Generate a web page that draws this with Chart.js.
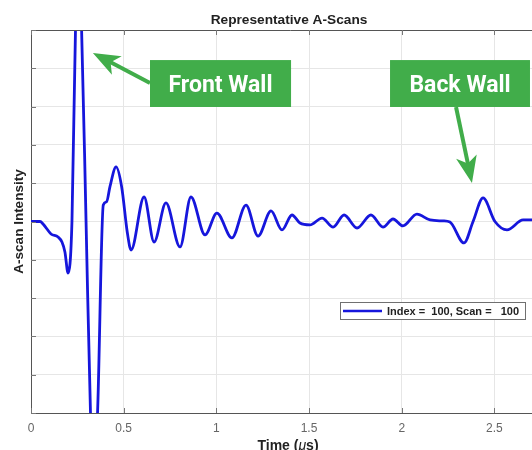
<!DOCTYPE html>
<html>
<head>
<meta charset="utf-8">
<script src="https://cdn.jsdelivr.net/npm/chart.js@4.4.1/dist/chart.umd.min.js"></script>
<style>
  html, body { margin: 0; padding: 0; background: #fff; overflow: hidden; width: 532px; height: 450px; }
  #wrap { position: absolute; left: 0; top: 0; width: 552px; height: 450px; }
</style>
</head>
<body>
<div id="wrap"><canvas id="c" width="552" height="450"></canvas></div>
<script>
// A-scan trace: time in microseconds, intensity normalised to the -1..1 axis
const timeUs = [
  0.000, 0.049, 0.065, 0.108, 0.146, 0.167, 0.183, 0.200, 0.221, 0.240,
  0.256, 0.273, 0.297, 0.321, 0.340, 0.359, 0.390, 0.408, 0.426, 0.459,
  0.489, 0.520, 0.540, 0.610, 0.664, 0.728, 0.804, 0.863, 0.939, 1.003,
  1.084, 1.160, 1.225, 1.295, 1.354, 1.408, 1.451, 1.505, 1.570, 1.630,
  1.689, 1.759, 1.834, 1.899, 1.953, 2.007, 2.082, 2.153, 2.223, 2.260,
  2.336, 2.385, 2.439, 2.503, 2.568, 2.655, 2.719, 2.800
];
const intensity = [
  0.000, 0.000, -0.013, -0.065, -0.081, -0.107, -0.159, -0.269, 0.000, 1.000,
  1.300, 1.000, 0.000, -1.000, -1.300, -1.000, 0.086, 0.103, 0.182, 0.285,
  0.182, -0.060, -0.149, 0.128, -0.107, 0.097, -0.133, 0.128, -0.070, 0.044,
  -0.086, 0.086, -0.076, 0.055, -0.044, 0.034, -0.008, -0.018, 0.018, -0.029,
  0.034, -0.034, 0.034, -0.029, 0.013, -0.023, 0.039, 0.008, 0.003, -0.003,
  -0.112, 0.000, 0.123, 0.000, -0.044, 0.008, 0.008, 0.003
];
const xTickValues = [0, 0.5, 1, 1.5, 2, 2.5];
const xTickLabels = ['0', '0.5', '1', '1.5', '2', '2.5'];
const seriesLabel = 'Index =  100, Scan =   100';
const chartTitle = 'Representative A-Scans';
const yTitle = 'A-scan Intensity';

// Callout boxes and arrows, placed in data units
const callouts = [
  { text: 'Front Wall', box: [0.642, 1.403, 0.843, 0.598], tail: [0.642, 0.723], tip: [0.334, 0.880] },
  { text: 'Back Wall',  box: [1.937, 2.692, 0.843, 0.598], tail: [2.293, 0.598], tip: [2.379, 0.201] }
];

const LINE_BLUE = '#1616dc';
const GREEN = '#41ad4a';
const AXIS = '#555555';
const GRID = '#e6e6e6';
const SANS = '"Liberation Sans", Arial, sans-serif';

function drawArrow(ctx, x0, y0, x1, y1) {
  const dx = x1 - x0, dy = y1 - y0;
  const len = Math.hypot(dx, dy);
  const ux = dx / len, uy = dy / len;
  const px = -uy, py = ux;
  const headLen = 27, notch = 20, half = 10.5;
  ctx.save();
  ctx.strokeStyle = GREEN;
  ctx.fillStyle = GREEN;
  ctx.lineWidth = 4;
  ctx.beginPath();
  ctx.moveTo(x0, y0);
  ctx.lineTo(x1 - ux * (notch - 1), y1 - uy * (notch - 1));
  ctx.stroke();
  const bx = x1 - ux * headLen, by = y1 - uy * headLen;
  ctx.beginPath();
  ctx.moveTo(x1, y1);
  ctx.lineTo(bx + px * half, by + py * half);
  ctx.lineTo(x1 - ux * notch, y1 - uy * notch);
  ctx.lineTo(bx - px * half, by - py * half);
  ctx.closePath();
  ctx.fill();
  ctx.restore();
}

const decorations = {
  id: 'decorations',
  afterDraw(chart) {
    const { ctx, chartArea: a, scales } = chart;
    const xs = scales.x, ys = scales.y;
    ctx.save();

    // top border of the axes box
    ctx.strokeStyle = AXIS;
    ctx.lineWidth = 1;
    ctx.beginPath();
    ctx.moveTo(a.left, a.top + 0.5);
    ctx.lineTo(a.right, a.top + 0.5);
    ctx.stroke();

    // inward tick marks
    ctx.strokeStyle = '#777';
    ctx.beginPath();
    xTickValues.forEach(v => {
      const x = Math.round(xs.getPixelForValue(v)) + 0.5;
      ctx.moveTo(x, a.bottom); ctx.lineTo(x, a.bottom - 5);
      ctx.moveTo(x, a.top); ctx.lineTo(x, a.top + 5);
    });
    ys.ticks.forEach(t => {
      const y = Math.round(ys.getPixelForValue(t.value)) + 0.5;
      ctx.moveTo(a.left, y); ctx.lineTo(a.left + 5, y);
    });
    ctx.stroke();

    // chart title
    ctx.fillStyle = '#222';
    ctx.font = 'bold 13.7px ' + SANS;
    ctx.textAlign = 'center';
    ctx.textBaseline = 'alphabetic';
    ctx.fillText(chartTitle, 289, 24);

    // y axis title
    ctx.save();
    ctx.translate(23, (a.top + a.bottom) / 2);
    ctx.rotate(-Math.PI / 2);
    ctx.font = 'bold 13.5px ' + SANS;
    ctx.fillText(yTitle, 0, 0);
    ctx.restore();

    // x axis title with italic mu
    const parts = [
      { t: 'Time (', f: 'bold 14px ' + SANS },
      { t: '\u03bc', f: 'italic 14px ' + SANS },
      { t: 's)', f: 'bold 14px ' + SANS }
    ];
    let total = 0;
    parts.forEach(p => { ctx.font = p.f; p.w = ctx.measureText(p.t).width; total += p.w; });
    let tx = 288 - total / 2;
    ctx.textAlign = 'left';
    parts.forEach(p => { ctx.font = p.f; ctx.fillText(p.t, tx, 450); tx += p.w; });

    // legend
    const lg = { x: 340, y: 302, w: 185, h: 17 };
    ctx.fillStyle = '#fff';
    ctx.fillRect(lg.x, lg.y, lg.w, lg.h);
    ctx.strokeStyle = '#707070';
    ctx.lineWidth = 1;
    ctx.strokeRect(lg.x + 0.5, lg.y + 0.5, lg.w, lg.h);
    ctx.strokeStyle = LINE_BLUE;
    ctx.lineWidth = 2.5;
    ctx.beginPath();
    ctx.moveTo(lg.x + 3, lg.y + 9);
    ctx.lineTo(lg.x + 42, lg.y + 9);
    ctx.stroke();
    ctx.fillStyle = '#222';
    ctx.font = 'bold 11px ' + SANS;
    ctx.textAlign = 'left';
    ctx.fillText(seriesLabel, lg.x + 47, lg.y + 13, 136);

    // callouts
    callouts.forEach(c => {
      drawArrow(ctx,
        xs.getPixelForValue(c.tail[0]), ys.getPixelForValue(c.tail[1]),
        xs.getPixelForValue(c.tip[0]), ys.getPixelForValue(c.tip[1]));
    });
    callouts.forEach(c => {
      const x0 = xs.getPixelForValue(c.box[0]), x1 = xs.getPixelForValue(c.box[1]);
      const y0 = ys.getPixelForValue(c.box[2]), y1 = ys.getPixelForValue(c.box[3]);
      ctx.fillStyle = GREEN;
      ctx.fillRect(x0, y0, x1 - x0, y1 - y0);
      ctx.fillStyle = '#fff';
      ctx.font = 'bold 23px Roboto, "Open Sans", sans-serif';
      ctx.textAlign = 'center';
      ctx.fillText(c.text, (x0 + x1) / 2, (y0 + y1) / 2 + 8.5);
    });

    ctx.restore();
  }
};

new Chart(document.getElementById('c'), {
  type: 'line',
  data: {
    datasets: [{
      label: seriesLabel,
      data: timeUs.map((t, i) => ({ x: t, y: intensity[i] })),
      borderColor: LINE_BLUE,
      borderWidth: 2.8,
      pointRadius: 0,
      fill: false,
      cubicInterpolationMode: 'monotone',
      clip: 0
    }]
  },
  options: {
    responsive: false,
    animation: false,
    devicePixelRatio: 1,
    layout: { padding: { top: 30, left: 0, right: 2, bottom: 0 } },
    plugins: { legend: { display: false }, tooltip: { enabled: false }, title: { display: false } },
    scales: {
      x: {
        type: 'linear',
        min: 0,
        max: 2.8,
        afterFit: s => { s.height = 37; },
        afterBuildTicks: s => { s.ticks = xTickValues.map(v => ({ value: v })); },
        ticks: {
          color: '#666',
          font: { family: SANS, size: 12 },
          padding: 8,
          maxRotation: 0,
          autoSkip: false,
          callback: v => xTickLabels[xTickValues.indexOf(v)]
        },
        grid: { color: GRID, lineWidth: 1, drawTicks: false },
        border: { display: true, color: AXIS, width: 1 }
      },
      y: {
        min: -1,
        max: 1,
        afterFit: s => { s.width = 31; },
        ticks: { display: false, stepSize: 0.2 },
        grid: { color: GRID, lineWidth: 1, drawTicks: false },
        border: { display: true, color: AXIS, width: 1 }
      }
    }
  },
  plugins: [decorations]
});
</script>
</body>
</html>
